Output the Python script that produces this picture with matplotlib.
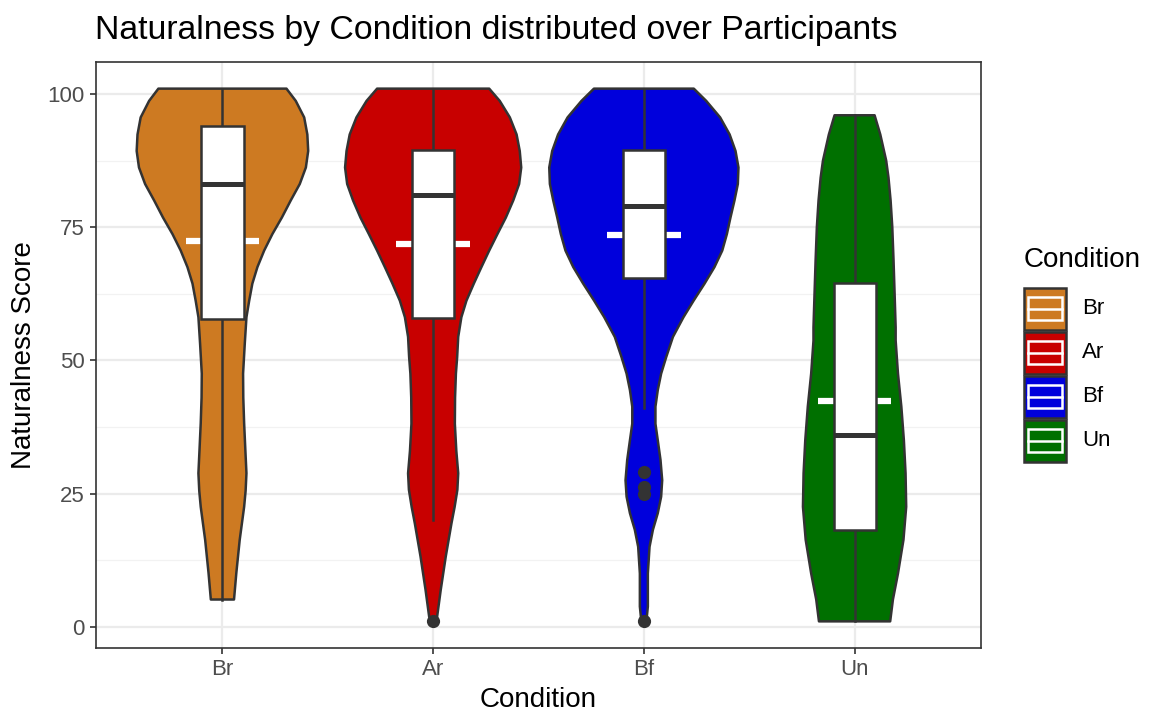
import matplotlib
matplotlib.use("Agg")
import matplotlib.pyplot as plt
from matplotlib.patches import Rectangle, Polygon
import numpy as np

plt.rcParams["font.family"] = ["Liberation Sans", "DejaVu Sans"]

CONDITIONS = ["Br", "Ar", "Bf", "Un"]
COLORS = ["#CD7A22", "#C80000", "#0000DC", "#007000"]

# violin outline: score levels and half-widths (x units)
BR_Y = [5.1, 10.1, 16.3, 22.5, 25.5, 28.8, 33, 38.2, 43, 47.5, 53.1, 58.1, 61.2, 64.4,
        67.5, 70.6, 73.7, 76.8, 80.0, 83.1, 86.2, 89.3, 92.4, 95.6, 98.7, 101]
BR_W = [0.055, 0.066, 0.082, 0.103, 0.110, 0.114, 0.109, 0.103, 0.099, 0.098, 0.106, 0.114,
        0.127, 0.142, 0.166, 0.198, 0.237, 0.282, 0.324, 0.367, 0.396, 0.407, 0.403, 0.388,
        0.348, 0.304]
AR_Y = [1, 1.9, 6.9, 13.2, 19.4, 22.5, 25.7, 28.8, 33, 38.1, 43, 47.5, 50.6, 54.4, 58.1,
        61.2, 64.4, 67.5, 70.6, 73.7, 76.8, 80.0, 83.1, 86.2, 89.3, 92.4, 95.6, 98.7, 101]
AR_W = [0.010, 0.019, 0.036, 0.060, 0.087, 0.102, 0.115, 0.119, 0.110, 0.103, 0.104, 0.108,
        0.114, 0.119, 0.134, 0.158, 0.193, 0.229, 0.266, 0.305, 0.345, 0.380, 0.408, 0.418,
        0.411, 0.396, 0.364, 0.316, 0.266]
BF_Y = [1, 3.8, 10, 15.0, 18.2, 21.3, 24.4, 27.5, 31.3, 35, 38.1, 41.3, 44.4, 47.5, 50.6,
        54.4, 58.1, 61.2, 64.4, 67.5, 70.6, 73.7, 76.8, 80.0, 83.1, 86.2, 89.3, 92.4, 95.6,
        98.7, 101]
BF_W = [0.012, 0.019, 0.019, 0.027, 0.043, 0.066, 0.082, 0.087, 0.079, 0.066, 0.055, 0.055,
        0.066, 0.082, 0.106, 0.138, 0.188, 0.236, 0.288, 0.335, 0.372, 0.394, 0.411, 0.430,
        0.446, 0.449, 0.435, 0.407, 0.362, 0.296, 0.237]
UN_Y = [1, 5.1, 10, 16.3, 22.5, 28.8, 35, 41.3, 47.5, 53.7, 56.2, 62.5, 68.7, 75, 80.0,
        84.3, 87.5, 92.4, 96]
UN_W = [0.169, 0.182, 0.206, 0.232, 0.245, 0.242, 0.234, 0.222, 0.206, 0.195, 0.195, 0.190,
        0.185, 0.179, 0.171, 0.161, 0.150, 0.122, 0.095]

VIOLIN_Y = [BR_Y, AR_Y, BF_Y, UN_Y]
VIOLIN_W = [BR_W, AR_W, BF_W, UN_W]

# boxplot statistics
Q1 = [57.7, 58.0, 65.5, 18.1]
MEDIAN = [83.1, 81.0, 78.9, 36.0]
Q3 = [93.9, 89.4, 89.4, 64.5]
WHISK_LO = [5, 20, 41, 1]
WHISK_HI = [101, 101, 101, 96]
MEANS = [72.4, 71.8, 73.6, 42.4]
OUTLIERS = [[], [1], [1, 24.9, 26.3, 29.0], []]

EDGE = "#333333"
W, H = 1149, 713

fig = plt.figure(figsize=(W / 100, H / 100), dpi=100)
ax = fig.add_axes([96 / W, 1 - 648 / H, 885 / W, 586 / H])

for i, cond in enumerate(CONDITIONS):
    x0 = i + 1
    ys = np.array(VIOLIN_Y[i])
    ws = np.array(VIOLIN_W[i])
    pts = np.concatenate([
        np.column_stack([x0 + ws, ys]),
        np.column_stack([x0 - ws[::-1], ys[::-1]]),
    ])
    ax.add_patch(Polygon(pts, closed=True, facecolor=COLORS[i], edgecolor=EDGE,
                         linewidth=1.8, joinstyle="round", zorder=3))

    # mean marker (white dash)
    ax.plot([x0 - 0.175, x0 + 0.175], [MEANS[i], MEANS[i]], color="white",
            linewidth=4.5, solid_capstyle="butt", zorder=4)

    # whiskers
    ax.plot([x0, x0], [Q3[i], WHISK_HI[i]], color=EDGE, linewidth=1.8, zorder=5)
    ax.plot([x0, x0], [WHISK_LO[i], Q1[i]], color=EDGE, linewidth=1.8, zorder=5)
    ax.add_patch(Rectangle((x0 - 0.1, Q1[i]), 0.2, Q3[i] - Q1[i], facecolor="white",
                           edgecolor=EDGE, linewidth=1.8, zorder=5))
    ax.plot([x0 - 0.1, x0 + 0.1], [MEDIAN[i], MEDIAN[i]], color=EDGE,
            linewidth=3.6, solid_capstyle="butt", zorder=6)
    if OUTLIERS[i]:
        ax.plot([x0] * len(OUTLIERS[i]), OUTLIERS[i], "o", color=EDGE,
                markersize=9.5, markeredgewidth=0, zorder=6)

ax.set_xlim(0.4, 4.6)
ax.set_ylim(-4, 106)
ax.set_xticks(range(1, 5))
ax.set_xticklabels(CONDITIONS)
ax.set_yticks([0, 25, 50, 75, 100])
ax.set_yticks([12.5, 37.5, 62.5, 87.5], minor=True)
ax.grid(True, which="major", color="#EBEBEB", linewidth=1.6, zorder=0)
ax.grid(True, which="minor", axis="y", color="#F2F2F2", linewidth=0.9, zorder=0)
ax.set_axisbelow(True)
ax.tick_params(axis="both", which="major", colors="#333333", length=4, width=1.2,
               labelsize=16, labelcolor="#4D4D4D", pad=4)
ax.tick_params(axis="both", which="minor", length=0)
for s in ax.spines.values():
    s.set_color("#333333")
    s.set_linewidth(1.2)

ax.set_xlabel("Condition", fontsize=20, labelpad=5)
ax.set_ylabel("Naturalness Score", fontsize=20, labelpad=8)
fig.text(95 / W, 1 - 15 / H, "Naturalness by Condition distributed over Participants",
         fontsize=24.3, ha="left", va="top")

# legend drawn in pixel coordinates
lax = fig.add_axes([0, 0, 1, 1], zorder=10)
lax.set_xlim(0, W)
lax.set_ylim(H, 0)
lax.axis("off")
lax.text(1024, 260, "Condition", fontsize=20, ha="left", va="center")
for i, cond in enumerate(CONDITIONS):
    top = 288 + i * 44
    lax.add_patch(Rectangle((1024, top), 42, 42, facecolor=COLORS[i],
                            edgecolor=EDGE, linewidth=1.8))
    lax.add_patch(Rectangle((1028, top + 9), 34, 23, facecolor="none",
                            edgecolor="white", linewidth=1.8))
    lax.plot([1028, 1062], [top + 20.5, top + 20.5], color="white", linewidth=1.8)
    lax.text(1082, top + 21, cond, fontsize=16, ha="left", va="center")

fig.savefig("out.png", dpi=100)
